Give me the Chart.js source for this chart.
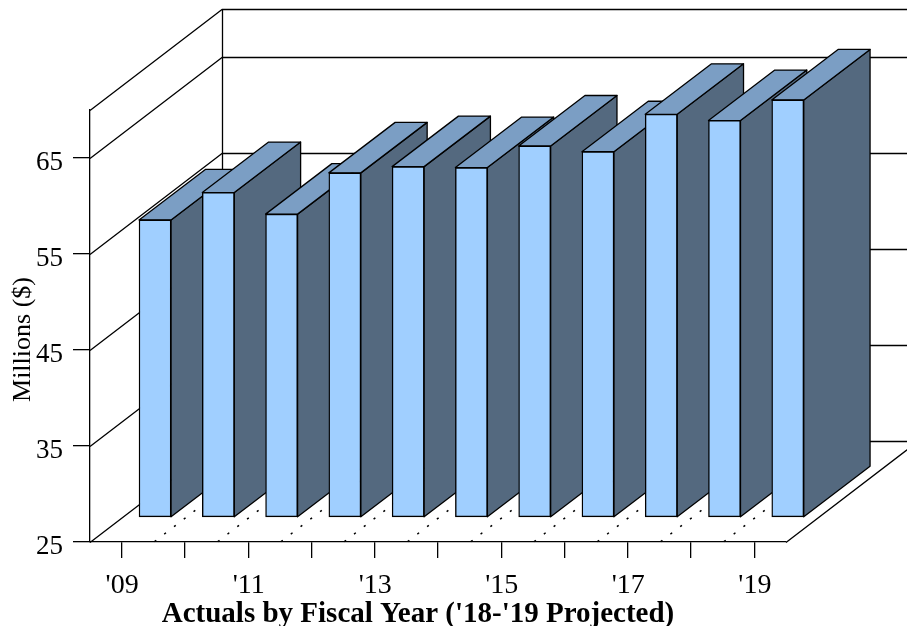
<!DOCTYPE html>
<html>
<head>
<meta charset="utf-8">
<style>
  html, body { margin: 0; padding: 0; background: #fff; overflow: hidden; }
  canvas { display: block; }
</style>
<script src="https://cdn.jsdelivr.net/npm/chart.js@4"></script>
</head>
<body>
<canvas id="chart" width="907" height="626"></canvas>
<script>
const fiscalYears = ["'09", "'10", "'11", "'12", "'13", "'14", "'15", "'16", "'17", "'18", "'19"];
const spending = [56.0, 58.85, 56.6, 60.9, 61.55, 61.45, 63.7, 63.1, 67.0, 66.35, 68.5];
const valueTicks = [25, 35, 45, 55, 65];
const xTitle = "Actuals by Fiscal Year ('18-'19 Projected)";
const yTitle = "Millions ($)";

// Oblique projection of the floor: how far the back wall sits from the front plane.
const WALL_DX = 132, WALL_DY = 101;
const BAR_FRONT_DX = 33.4, BAR_FRONT_DY = 24.5;
const BAR_DEPTH_DX = 66.3, BAR_DEPTH_DY = 50.5;

const FRONT_COLOR = '#A0CFFF';
const TOP_COLOR = '#7B9EC4';
const SIDE_COLOR = '#54697F';
const SERIF = '"Liberation Serif", "Times New Roman", serif';
const LINE = 1.3;

function poly(ctx, pts, fill) {
  ctx.beginPath();
  pts.forEach((p, i) => i ? ctx.lineTo(p[0], p[1]) : ctx.moveTo(p[0], p[1]));
  ctx.closePath();
  if (fill) { ctx.fillStyle = fill; ctx.fill(); }
  ctx.stroke();
}

const oblique = {
  id: 'oblique',
  beforeDatasetsDraw(chart) {
    const { ctx, scales: { x, y } } = chart;
    ctx.save();
    ctx.strokeStyle = '#000';
    ctx.lineWidth = LINE;
    ctx.lineJoin = 'round';

    // Left wall, back wall and floor edges
    const levels = valueTicks.concat(y.max);
    const backRight = x.right + WALL_DX;
    levels.forEach(v => {
      const py = Math.round(y.getPixelForValue(v)) + 0.5;
      ctx.beginPath();
      ctx.moveTo(x.left, py);
      ctx.lineTo(x.left + WALL_DX, py - WALL_DY);
      ctx.lineTo(backRight, py - WALL_DY);
      ctx.stroke();
    });
    const floorY = Math.round(y.getPixelForValue(y.min)) + 0.5;
    const topY = Math.round(y.getPixelForValue(y.max)) + 0.5;
    ctx.beginPath();
    ctx.moveTo(x.left + WALL_DX + 0.5, topY - WALL_DY);
    ctx.lineTo(x.left + WALL_DX + 0.5, floorY - WALL_DY);
    ctx.moveTo(x.right, floorY);
    ctx.lineTo(backRight, floorY - WALL_DY);
    ctx.stroke();

    // Dotted floor lines along the category boundaries
    const step = x.getPixelForValue(1) - x.getPixelForValue(0);
    ctx.save();
    ctx.setLineDash([2.2, 10.1]);
    ctx.lineDashOffset = -1.5;
    ctx.lineWidth = 1.5;
    for (let i = 0; i < fiscalYears.length - 1; i++) {
      const bx = x.getPixelForValue(i) + step / 2;
      ctx.beginPath();
      ctx.moveTo(bx, floorY);
      ctx.lineTo(bx + WALL_DX, floorY - WALL_DY);
      ctx.stroke();
    }
    ctx.restore();

    // Side and top faces, left to right so nearer bars overlap correctly
    chart.getDatasetMeta(0).data.forEach(bar => {
      const p = bar.getProps(['x', 'y', 'base', 'width'], true);
      const l = p.x - p.width / 2 + BAR_FRONT_DX;
      const r = p.x + p.width / 2 + BAR_FRONT_DX;
      const t = p.y - BAR_FRONT_DY;
      const b = p.base - BAR_FRONT_DY;
      poly(ctx, [[r, t], [r + BAR_DEPTH_DX, t - BAR_DEPTH_DY], [r + BAR_DEPTH_DX, b - BAR_DEPTH_DY], [r, b]], SIDE_COLOR);
      poly(ctx, [[l, t], [l + BAR_DEPTH_DX, t - BAR_DEPTH_DY], [r + BAR_DEPTH_DX, t - BAR_DEPTH_DY], [r, t]], TOP_COLOR);
    });
    ctx.restore();

    // Front faces are drawn by the bar controller, shifted onto the front of each solid
    ctx.save();
    ctx.translate(BAR_FRONT_DX, -BAR_FRONT_DY);
  },
  afterDatasetsDraw(chart) {
    chart.ctx.restore();
  },
  afterDraw(chart) {
    const { ctx } = chart;
    ctx.save();
    ctx.fillStyle = '#000';
    ctx.textAlign = 'center';
    ctx.textBaseline = 'alphabetic';
    ctx.font = 'bold 29px ' + SERIF;
    ctx.fillText(xTitle, 418, 622);
    ctx.translate(30, 339.5);
    ctx.rotate(-Math.PI / 2);
    ctx.font = '26px ' + SERIF;
    ctx.fillText(yTitle, 0, 0);
    ctx.restore();
  }
};

new Chart(document.getElementById('chart'), {
  type: 'bar',
  data: {
    labels: fiscalYears,
    datasets: [{
      data: spending,
      base: 25,
      backgroundColor: FRONT_COLOR,
      borderColor: '#000',
      borderWidth: 1.4,
      borderSkipped: false,
      barThickness: 32,
      clip: false
    }]
  },
  options: {
    responsive: false,
    animation: false,
    devicePixelRatio: 1,
    layout: { padding: { top: 110, right: 121, left: 0, bottom: 0 } },
    plugins: { legend: { display: false }, tooltip: { enabled: false }, title: { display: false } },
    scales: {
      x: {
        grid: { offset: false, drawOnChartArea: false, tickLength: 16, tickColor: '#000', lineWidth: LINE },
        border: { color: '#000', width: LINE },
        ticks: {
          autoSkip: false,
          maxRotation: 0,
          minRotation: 0,
          padding: 11,
          labelOffset: 0.5,
          color: '#000',
          font: { family: SERIF, size: 28 },
          callback(value, index) { return index % 2 === 0 ? this.getLabelForValue(value) : ''; }
        },
        afterFit(scale) { scale.height = 84; }
      },
      y: {
        min: 25,
        max: 70,
        grid: { drawOnChartArea: false, tickLength: 17, tickColor: '#000', lineWidth: LINE },
        border: { color: '#000', width: LINE },
        ticks: {
          stepSize: 10,
          padding: 10,
          labelOffset: 4.5,
          color: '#000',
          font: { family: SERIF, size: 27 }
        },
        afterBuildTicks(scale) { scale.ticks = valueTicks.map(value => ({ value })); },
        afterFit(scale) { scale.width = 90; }
      }
    }
  },
  plugins: [oblique]
});
</script>
</body>
</html>
